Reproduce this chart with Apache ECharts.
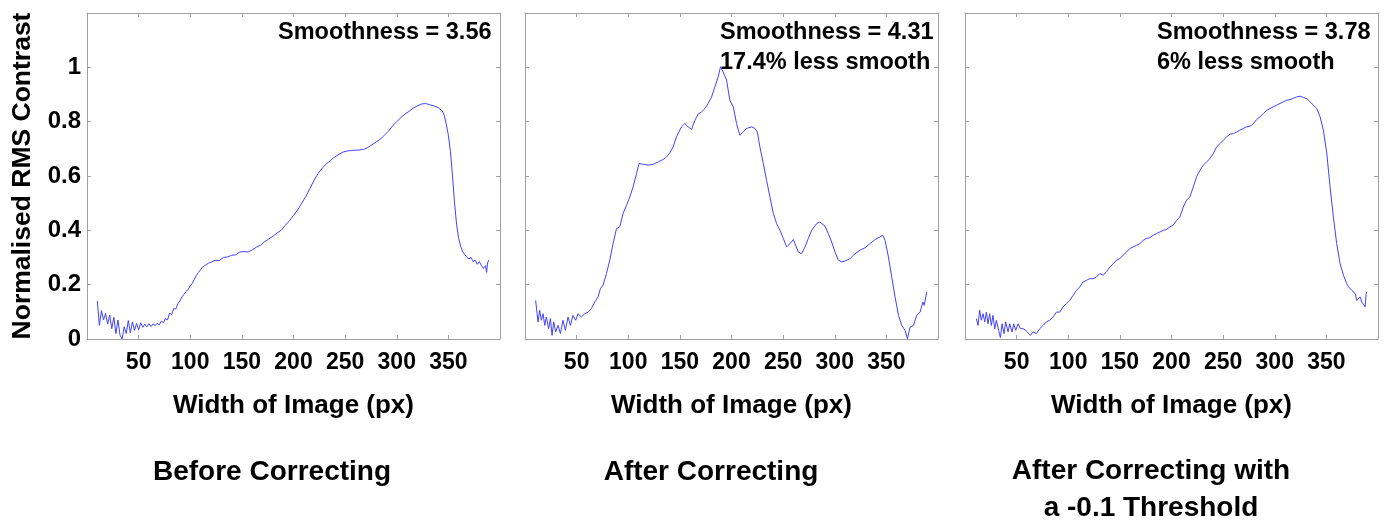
<!DOCTYPE html>
<html>
<head>
<meta charset="utf-8">
<script src="https://cdn.jsdelivr.net/npm/echarts@6/dist/echarts.min.js"></script>
<style>
html,body{margin:0;padding:0;background:#fff;}
#c{width:1385px;height:521px;}
</style>
</head>
<body>
<div id="c"></div>
<script>
// ---- data ----
var xTickValues = [50, 100, 150, 200, 250, 300, 350];
var yTickValues = [0, 0.2, 0.4, 0.6, 0.8, 1];
var panelTitles = ["Before Correcting", "After Correcting", "After Correcting with\na -0.1 Threshold"];
var panelNotes = [["Smoothness = 3.56"], ["Smoothness = 4.31", "17.4% less smooth"], ["Smoothness = 3.78", "6% less smooth"]];

var xBefore = [10,12,14,16,18,20,22,24,26,28,30,32,34,36,38,40,42,44,46,48,50,52,54,56,58,60,62,64,66,68,70,72,74,76,78,80,82,84,86,88,90,92,94,96,98,100,102,104,106,108,110,112,114,116,118,120,124,128,132,136,140,144,148,152,156,160,164,168,172,176,180,184,188,192,196,200,204,208,212,216,220,224,228,232,236,240,244,248,252,256,260,264,268,272,276,280,284,288,292,296,300,304,308,312,316,320,324,328,332,336,340,344,346,348,350,352,354,356,358,360,362,364,366,368,370,372,374,376,378,380,382,384,386,387,388,389];
var yBefore = [0.14,0.05,0.105,0.07,0.094,0.055,0.088,0.038,0.08,0.02,0.07,0.014,0.0,0.045,0.02,0.068,0.022,0.063,0.032,0.057,0.033,0.06,0.043,0.055,0.045,0.056,0.046,0.055,0.05,0.058,0.052,0.066,0.06,0.075,0.07,0.095,0.09,0.112,0.11,0.13,0.14,0.155,0.165,0.175,0.183,0.195,0.205,0.22,0.235,0.245,0.255,0.265,0.27,0.275,0.28,0.282,0.29,0.288,0.3,0.302,0.308,0.31,0.32,0.322,0.32,0.328,0.338,0.345,0.358,0.368,0.378,0.39,0.4,0.418,0.435,0.455,0.475,0.5,0.525,0.555,0.585,0.61,0.63,0.645,0.658,0.67,0.68,0.688,0.692,0.694,0.695,0.696,0.698,0.705,0.715,0.725,0.735,0.75,0.765,0.785,0.8,0.815,0.828,0.838,0.85,0.858,0.865,0.867,0.862,0.858,0.852,0.84,0.824,0.79,0.75,0.69,0.6,0.5,0.42,0.37,0.34,0.32,0.31,0.3,0.295,0.3,0.285,0.29,0.275,0.285,0.27,0.26,0.27,0.245,0.28,0.29];

var xAfter = [10.3,12.6,14.2,15.8,17.5,19.1,20.7,22.9,24.6,26.2,27.8,29.7,32,34.3,36.8,39.1,41.7,44,46.5,49.1,51.4,54.6,57.9,61.1,64.3,67.5,70.8,73,75.6,78.9,82.1,85.3,88.6,91.8,95,98.3,101.5,104.7,108,110.5,114.4,119.3,124.1,129,133.8,137,140.3,143.5,146.7,151.6,154.8,158,161.3,164.5,167.7,171,174.2,177.4,180.7,183.9,187.1,189.4,191.9,195.2,198.4,201.7,204.9,208.1,211.4,214.6,219.5,222.7,225,227.5,230.8,234,237.2,240.5,243.7,246.9,250.2,253.4,256.6,259.9,261.5,264.7,267.9,271.2,274.4,277.6,282.5,285.7,290.6,293.8,297,300.3,303.5,306.7,310,314.8,319.6,324.5,329.3,334.2,339,343.9,346.5,348.7,352,355.2,358.4,361.7,364.9,368.1,370.4,373,376.2,379.4,382.7,385.3,386.6,389.1];
var yAfter = [0.142,0.063,0.106,0.069,0.093,0.05,0.081,0.038,0.075,0.0135,0.063,0.026,0.05,0.02,0.069,0.032,0.081,0.05,0.087,0.069,0.093,0.081,0.093,0.099,0.112,0.136,0.155,0.185,0.198,0.241,0.29,0.351,0.406,0.413,0.462,0.492,0.523,0.56,0.609,0.646,0.643,0.64,0.643,0.652,0.661,0.67,0.685,0.707,0.744,0.781,0.793,0.781,0.771,0.805,0.828,0.836,0.848,0.867,0.891,0.928,0.965,1.002,0.983,0.953,0.879,0.855,0.793,0.75,0.762,0.775,0.781,0.775,0.762,0.707,0.646,0.584,0.523,0.462,0.425,0.4,0.37,0.339,0.351,0.366,0.351,0.32,0.314,0.339,0.37,0.4,0.425,0.431,0.415,0.388,0.357,0.32,0.29,0.284,0.287,0.296,0.314,0.327,0.336,0.351,0.366,0.376,0.382,0.363,0.302,0.228,0.155,0.087,0.05,0.032,0.001,0.044,0.05,0.087,0.099,0.136,0.124,0.173];

var xThresh = [11,12.6,14.2,15.8,17.5,19.1,20.7,22.3,23.9,25.5,27.1,28.8,30.4,32.6,34.3,35.9,37.8,39.4,41.7,43.3,45.6,47.2,49.1,51.4,53.7,56.2,58.8,61.1,63.3,65.9,69.2,72.4,75.6,78.9,82.1,85.3,88.6,91.8,95,98.3,101.5,104.7,108,111.2,114.4,117.6,120.9,124.1,127.3,130.6,133.8,137,140.3,143.5,146.7,150,153.2,156.4,159.7,162.9,166.1,169.4,172.6,175.8,179.1,182.3,185.5,188.8,192,195.2,198.4,201.7,204.9,208.1,211.4,214.6,217.8,221.1,224.3,227.5,230.8,234,237.2,240.5,243.7,246.9,250.2,253.4,256.6,259.9,263.1,266.3,269.6,272.8,276,279.3,282.5,285.7,289,292.2,295.4,298.6,301.9,305.1,308.3,311.6,314.8,318,321.3,324.5,327.7,331,334.2,337.4,340.7,343.9,347.1,350.4,353.6,356.8,360,363.3,366.5,369.7,371.4,373,374.6,376.2,377.9,379.4,381.1,382.7,384.3,386,387.5,388.5,389.1];
var yThresh = [0.075,0.05,0.106,0.069,0.093,0.063,0.099,0.056,0.093,0.05,0.087,0.038,0.069,0.032,0.005,0.056,0.02,0.063,0.026,0.056,0.026,0.056,0.032,0.056,0.038,0.038,0.032,0.022,0.0135,0.026,0.02,0.038,0.05,0.063,0.069,0.081,0.099,0.099,0.118,0.13,0.142,0.161,0.179,0.192,0.21,0.216,0.222,0.222,0.228,0.241,0.235,0.247,0.265,0.277,0.29,0.296,0.308,0.32,0.333,0.339,0.345,0.351,0.363,0.37,0.373,0.382,0.388,0.394,0.4,0.403,0.413,0.419,0.437,0.449,0.486,0.511,0.523,0.56,0.597,0.621,0.64,0.652,0.664,0.683,0.707,0.719,0.732,0.744,0.754,0.756,0.762,0.769,0.775,0.781,0.783,0.793,0.808,0.818,0.83,0.842,0.848,0.855,0.861,0.867,0.873,0.879,0.881,0.886,0.891,0.894,0.889,0.885,0.873,0.861,0.848,0.818,0.769,0.683,0.56,0.449,0.351,0.277,0.235,0.204,0.192,0.192,0.179,0.185,0.167,0.142,0.136,0.155,0.136,0.13,0.118,0.167,0.173];

function zip(xs, ys){ var out=[]; for(var i=0;i<xs.length;i++){ out.push([xs[i], ys[i]]); } return out; }
var seriesData = [zip(xBefore,yBefore), zip(xAfter,yAfter), zip(xThresh,yThresh)];

// ---- layout ----
var FONT = "'Liberation Sans', Arial, sans-serif";
var gridLefts = [87, 525, 965];
var gridW = 413, gridTop = 13, gridH = 326;
var frame = '#a0a0a0';
var lineColor = '#4242ff';

var grids = [], xAxes = [], yAxes = [], series = [], graphics = [];
for (var p = 0; p < 3; p++) {
  grids.push({left: gridLefts[p], top: gridTop, width: gridW, height: gridH, show: false, containLabel: false});
  xAxes.push({
    gridIndex: p, type: 'value', position: 'bottom', min: 0, max: 400, interval: 50,
    axisLine: {show: true, lineStyle: {color: frame, width: 1}},
    axisTick: {show: true, inside: true, length: 4, lineStyle: {color: frame}},
    axisLabel: {show: true, margin: 12, color: '#000', fontFamily: FONT, fontWeight: 'bold', fontSize: 23,
      formatter: function (v) { return xTickValues.indexOf(v) >= 0 ? String(v) : ''; }},
    splitLine: {show: false},
    name: 'Width of Image (px)', nameLocation: 'middle', nameGap: 54,
    nameTextStyle: {color: '#000', fontFamily: FONT, fontWeight: 'bold', fontSize: 26}
  });
  xAxes.push({
    gridIndex: p, type: 'value', position: 'top', min: 0, max: 400, interval: 50,
    axisLine: {show: true, onZero: false, lineStyle: {color: frame, width: 1}},
    axisTick: {show: true, inside: true, length: 4, lineStyle: {color: frame}},
    axisLabel: {show: false}, splitLine: {show: false}
  });
  yAxes.push({
    gridIndex: p, type: 'value', position: 'left', min: 0, max: 1.2, interval: 0.2,
    axisLine: {show: true, onZero: false, lineStyle: {color: frame, width: 1}},
    axisTick: {show: true, inside: true, length: 4, lineStyle: {color: frame}},
    axisLabel: {show: p === 0, margin: 6, color: '#000', fontFamily: FONT, fontWeight: 'bold', fontSize: 24,
      formatter: function (v) {
        for (var k = 0; k < yTickValues.length; k++) { if (Math.abs(yTickValues[k] - v) < 1e-9) return String(yTickValues[k]); }
        return '';
      }},
    splitLine: {show: false},
    name: p === 0 ? 'Normalised RMS Contrast' : '', nameLocation: 'middle', nameGap: 51,
    nameTextStyle: {color: '#000', fontFamily: FONT, fontWeight: 'bold', fontSize: 26.5}
  });
  yAxes.push({
    gridIndex: p, type: 'value', position: 'right', min: 0, max: 1.2, interval: 0.2,
    axisLine: {show: true, onZero: false, lineStyle: {color: frame, width: 1}},
    axisTick: {show: true, inside: true, length: 4, lineStyle: {color: frame}},
    axisLabel: {show: false}, splitLine: {show: false}
  });
  series.push({
    type: 'line', xAxisIndex: 2 * p, yAxisIndex: 2 * p, data: seriesData[p],
    showSymbol: false, symbol: 'none', smooth: false, silent: true, animation: false,
    lineStyle: {color: lineColor, width: 1}
  });
}

var noteLeft = [278, 720, 1157];
for (var p2 = 0; p2 < 3; p2++) {
  for (var l = 0; l < panelNotes[p2].length; l++) {
    graphics.push({type: 'text', x: noteLeft[p2], y: 33 + l * 30, silent: true,
      style: {text: panelNotes[p2][l], textAlign: 'left', textVerticalAlign: 'middle',
        font: 'bold 23.5px ' + FONT, fill: '#000'}});
  }
}
var titleX = [272, 711, 1151];
var titleY = [472, 472, 490];
for (var p3 = 0; p3 < 3; p3++) {
  graphics.push({type: 'text', x: titleX[p3], y: titleY[p3], silent: true,
    style: {text: panelTitles[p3], textAlign: 'center', textVerticalAlign: 'middle',
      font: 'bold 28px ' + FONT, lineHeight: 36.6, fill: '#000'}});
}

var chart = echarts.init(document.getElementById('c'), null, {renderer: 'canvas'});
chart.setOption({
  animation: false,
  backgroundColor: '#fff',
  grid: grids, xAxis: xAxes, yAxis: yAxes, series: series, graphic: graphics
});
</script>
</body>
</html>
